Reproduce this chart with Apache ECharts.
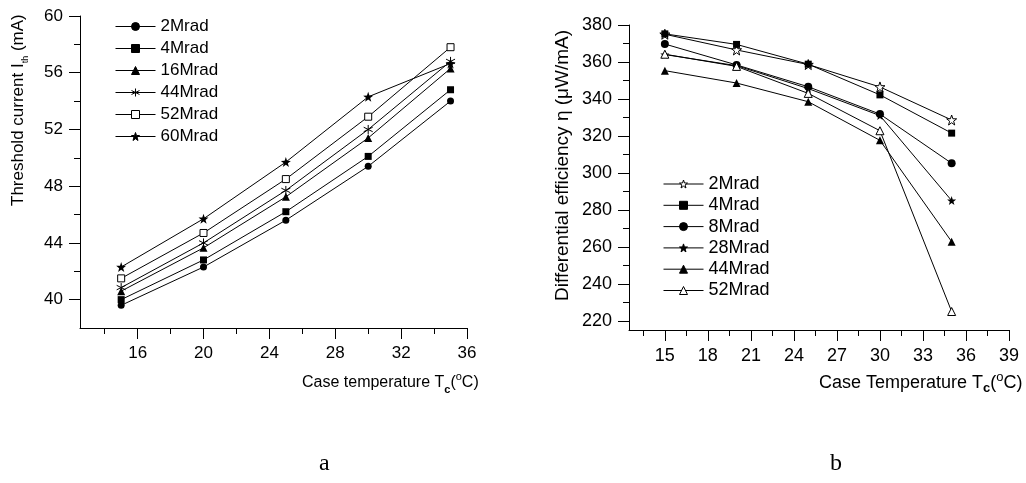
<!DOCTYPE html>
<html><head><meta charset="utf-8">
<script src="https://cdn.jsdelivr.net/npm/echarts@6/dist/echarts.min.js"></script>
<style>html,body{margin:0;padding:0;background:#fff}#c{width:1026px;height:483px}</style>
</head><body><div id="c"></div>
<script>
// ---- Data: chart a ----
const caseTempA = [15, 20, 25, 30, 35];
const namesA = ['2Mrad', '4Mrad', '16Mrad', '44Mrad', '52Mrad', '60Mrad'];
const ith2Mrad  = [39.6, 42.3, 45.6, 49.4, 54.0];
const ith4Mrad  = [40.0, 42.8, 46.2, 50.1, 54.8];
const ith16Mrad = [40.6, 43.65, 47.25, 51.4, 56.3];
const ith44Mrad = [40.85, 44.0, 47.7, 52.0, 56.8];
const ith52Mrad = [41.5, 44.7, 48.5, 52.9, 57.8];
const ith60Mrad = [42.3, 45.7, 49.7, 54.3, 56.65];
const xTicksA = [16, 20, 24, 28, 32, 36];
const xMinorA = [14, 18, 22, 26, 30, 34];
const yTicksA = [40, 44, 48, 52, 56, 60];
const yMinorA = [42, 46, 50, 54, 58];

// ---- Data: chart b ----
const caseTempB = [15, 20, 25, 30, 35];
const namesB = ['2Mrad', '4Mrad', '8Mrad', '28Mrad', '44Mrad', '52Mrad'];
const eta2Mrad  = [375.0, 366.5, 358.6, 346.5, 328.6];
const eta4Mrad  = [375.2, 369.5, 358.8, 342.2, 321.5];
const eta8Mrad  = [369.7, 358.4, 346.6, 331.8, 305.2];
const eta28Mrad = [364.0, 358.0, 345.6, 331.0, 285.0];
const eta44Mrad = [355.3, 348.6, 338.5, 317.6, 262.8];
const eta52Mrad = [364.2, 357.6, 343.0, 322.8, 225.0];
const xTicksB = [15, 18, 21, 24, 27, 30, 33, 36, 39];
const xMinorB = [13.5, 16.5, 19.5, 22.5, 25.5, 28.5, 31.5, 34.5, 37.5];
const yTicksB = [220, 240, 260, 280, 300, 320, 340, 360, 380];
const yMinorB = [230, 250, 270, 290, 310, 330, 350, 370];

const STAR = 'path://M0,-10L2.35,-3.24L9.51,-3.09L3.8,1.24L5.88,8.09L0,4L-5.88,8.09L-3.8,1.24L-9.51,-3.09L-2.35,-3.24Z';
const ASTER = 'path://M0,-5L0,5M-4.33,-2.5L4.33,2.5M-4.33,2.5L4.33,-2.5';
const FONT = 'Liberation Sans';

const filled = {color: '#000', borderColor: '#000', borderWidth: 0};
const open = {color: '#fff', borderColor: '#000', borderWidth: 1};
const aster = {color: 'rgba(0,0,0,0)', borderColor: '#000', borderWidth: 1};

function mk(name, xs, ys, gi, symbol, size, style) {
  return {
    type: 'line', name: name,
    xAxisIndex: gi * 2, yAxisIndex: gi * 2,
    data: xs.map((x, i) => [x, ys[i]]),
    symbol: symbol, symbolSize: size,
    itemStyle: style,
    lineStyle: {color: '#000', width: 1},
    emphasis: {disabled: true},
    animation: false, z: 2
  };
}

const seriesA = [
  mk(namesA[0], caseTempA, ith2Mrad, 0, 'circle', 7, filled),
  mk(namesA[1], caseTempA, ith4Mrad, 0, 'rect', 7, filled),
  mk(namesA[2], caseTempA, ith16Mrad, 0, 'triangle', 8, filled),
  mk(namesA[3], caseTempA, ith44Mrad, 0, ASTER, 9, aster),
  mk(namesA[4], caseTempA, ith52Mrad, 0, 'rect', 7, open),
  mk(namesA[5], caseTempA, ith60Mrad, 0, STAR, 10, filled)
];
// right chart names carry a trailing space so the two legends stay separate
const seriesB = [
  mk(namesB[0] + ' ', caseTempB, eta2Mrad, 1, STAR, 10, open),
  mk(namesB[1] + ' ', caseTempB, eta4Mrad, 1, 'rect', 7, filled),
  mk(namesB[2] + ' ', caseTempB, eta8Mrad, 1, 'circle', 8, filled),
  mk(namesB[3] + ' ', caseTempB, eta28Mrad, 1, STAR, 9, filled),
  mk(namesB[4] + ' ', caseTempB, eta44Mrad, 1, 'triangle', 8, filled),
  mk(namesB[5] + ' ', caseTempB, eta52Mrad, 1, 'triangle', 8, open)
];

const axLine = {show: true, onZero: false, lineStyle: {color: '#000', width: 1}};

function xMajor(gi, min, max, ticks, fs) {
  return {type: 'value', gridIndex: gi, position: 'bottom', min: min, max: max,
    axisLine: axLine, splitLine: {show: false},
    axisTick: {show: true, length: 11, customValues: ticks, lineStyle: {color: '#000'}},
    axisLabel: {margin: 17, customValues: ticks, color: '#000', fontFamily: FONT, fontSize: fs}};
}
function xMin(gi, min, max, ticks) {
  return {type: 'value', gridIndex: gi, position: 'bottom', min: min, max: max,
    axisLine: {show: false}, splitLine: {show: false},
    axisTick: {show: true, length: 6, customValues: ticks, lineStyle: {color: '#000'}},
    axisLabel: {show: false}};
}
function yMajor(gi, min, max, ticks, fs) {
  return {type: 'value', gridIndex: gi, position: 'left', min: min, max: max,
    axisLine: axLine, splitLine: {show: false},
    axisTick: {show: true, length: 11, customValues: ticks, lineStyle: {color: '#000'}},
    axisLabel: {margin: 17, customValues: ticks, color: '#000', fontFamily: FONT, fontSize: fs}};
}
function yMin(gi, min, max, ticks) {
  return {type: 'value', gridIndex: gi, position: 'left', min: min, max: max,
    axisLine: {show: false}, splitLine: {show: false},
    axisTick: {show: true, length: 6, customValues: ticks, lineStyle: {color: '#000'}},
    axisLabel: {show: false}};
}

function legendOf(left, top, gap, fs, names) {
  return {
    orient: 'vertical', left: left, top: top, itemWidth: 40, itemHeight: 10, itemGap: gap,
    itemStyle: {borderWidth: 1}, lineStyle: {width: 1},
    textStyle: {color: '#000', fontFamily: FONT, fontSize: fs},
    formatter: n => n.trim(), selectedMode: false, data: names
  };
}

function richOf(fs) {
  return {
    a: {fontFamily: FONT, fontSize: fs, color: '#000', lineHeight: 24, verticalAlign: 'middle'},
    sub: {fontFamily: FONT, fontSize: Math.round(fs * 0.7), color: '#000', lineHeight: 24, verticalAlign: 'bottom', fontWeight: 'bold'},
    subn: {fontFamily: FONT, fontSize: Math.round(fs * 0.55), color: '#000', lineHeight: 24, verticalAlign: 'bottom'},
    sup: {fontFamily: FONT, fontSize: Math.round(fs * 0.7), color: '#000', lineHeight: 24, verticalAlign: 'top'}
  };
}

const chart = echarts.init(document.getElementById('c'), null, {renderer: 'canvas'});
chart.setOption({
  backgroundColor: '#fff',
  animation: false,
  grid: [
    {left: 80, top: 16, width: 387, height: 312},
    {left: 629, top: 25, width: 380, height: 305}
  ],
  xAxis: [
    xMajor(0, 12.5, 36, xTicksA, 17), xMin(0, 12.5, 36, xMinorA),
    xMajor(1, 12.5, 39, xTicksB, 18), xMin(1, 12.5, 39, xMinorB)
  ],
  yAxis: [
    yMajor(0, 38, 60, yTicksA, 17), yMin(0, 38, 60, yMinorA),
    yMajor(1, 215, 380, yTicksB, 18), yMin(1, 215, 380, yMinorB)
  ],
  legend: [
    legendOf(110, 13, 5, 17, seriesA.map(s => s.name)),
    legendOf(658, 170, 3.3, 18, seriesB.map(s => s.name))
  ],
  series: seriesA.concat(seriesB),
  graphic: [
    {type: 'text', left: 302, top: 371, style: {text: '{a|Case temperature T}{sub|c}{a|(}{sup|o}{a|C)}', rich: richOf(16)}},
    {type: 'text', left: 819, top: 371, style: {text: '{a|Case Temperature T}{sub|c}{a|(}{sup|o}{a|C)}', rich: richOf(18)}},
    {type: 'text', x: 6, y: 206, rotation: Math.PI / 2, style: {text: '{a|Threshold current I}{subn|th}{a| (mA)}', rich: richOf(17)}},
    {type: 'text', x: 551, y: 301, rotation: Math.PI / 2, style: {text: '{a|Differential efficiency η (μW/mA)}', rich: richOf(19)}},
    {type: 'text', left: 319, top: 452, style: {text: 'a', fontFamily: 'Liberation Serif', fontSize: 24, fill: '#000'}},
    {type: 'text', left: 830, top: 452, style: {text: 'b', fontFamily: 'Liberation Serif', fontSize: 24, fill: '#000'}}
  ]
});
</script>
</body></html>
